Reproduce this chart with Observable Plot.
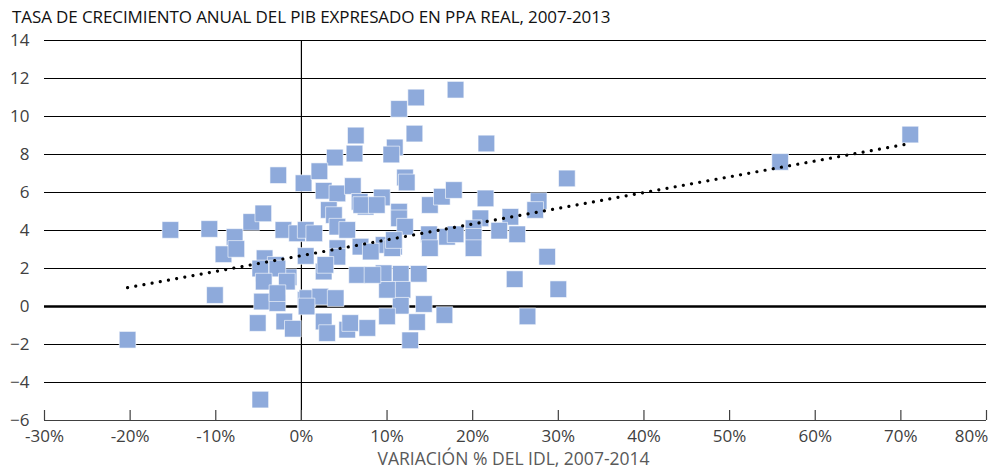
<!DOCTYPE html>
<html>
<head>
<meta charset="utf-8">
<script src="https://cdn.jsdelivr.net/npm/d3@7"></script>
<script src="https://cdn.jsdelivr.net/npm/@observablehq/plot@0.6"></script>
<style>
  html, body { margin: 0; padding: 0; background: #fff; }
  #wrap { width: 991px; height: 469px; overflow: hidden; font-family: "Open Sans", "Noto Sans", sans-serif; }
  #title { height: 31px; box-sizing: border-box; padding: 6px 0 0 12px; font-size: 17px; color: #111; white-space: nowrap; line-height: 22px; letter-spacing: -0.1px; }
  #caption { height: 21px; text-align: center; font-size: 17.5px; color: #595959; line-height: 20px; padding-left: 36px; white-space: nowrap; }
  #chart svg { overflow: visible; display: block; }
</style>
</head>
<body>
<div id="wrap">
  <div id="title">TASA DE CRECIMIENTO ANUAL DEL PIB EXPRESADO EN PPA REAL, 2007-2013</div>
  <div id="chart"></div>
  <div id="caption">VARIACIÓN % DEL IDL, 2007-2014</div>
</div>
<script>
// Variación % del IDL, 2007-2014 (x, percent)
const idlChange = [
  -20.3, -15.3, -10.75, -10.1, -9.1, -7.8, -7.6, -5.85, -4.45, -2.7,
  0.25, -2.1, -0.5, 0.5, 0.5, -4.3, -3.0, -4.4, -1.5, -4.8,
  -2.8, -4.4, -1.7, -4.6, -2.8, -2.8, -5.1, -2.0, -1.0, 0.5,
  -4.8, 13.4, 11.4, 18.0, 13.2, 6.35, 6.2, 10.9, 10.5, 3.9,
  21.6, 2.1, 12.1, 12.3, 2.6, 4.2, 6.0, 6.8, 7.5, 9.4,
  11.4, 15.0, 3.2, 3.8, 31.0, 16.4, 17.8, 21.5, 20.9, 27.7,
  27.3, 24.4, 11.4, 12.1, 23.1, 25.2, 14.9, 15.0, 17.0, 18.0,
  20.1, 20.1, 20.1, 10.8, 9.6, 28.7, 24.9, 30.0, 26.4, 16.7,
  14.3, 13.7, 11.6, 11.8, 11.6, 10.0, 9.6, 10.0, 13.5, 12.7,
  1.5, 4.2, 5.35, 4.2, 4.2, 2.6, 6.5, 8.3, 7.0, 8.8,
  6.9, 8.1, 10.6, 10.8, 0.7, 2.2, 4.0, 0.6, 2.6, 3.0,
  5.35, 5.7, 7.7, 55.9, 71.1, 2.8
];
// Tasa de crecimiento anual del PIB (PPA real), 2007-2013 (y, percent)
const gdpGrowth = [
  -1.75, 4.03, 4.08, 0.6, 2.75, 3.66, 3.03, 4.45, 4.9, 6.91,
  6.49, 4.03, 3.85, 4.03, 2.66, 2.54, 2.19, 1.75, 1.54, 2.0,
  2.0, 1.31, 1.31, 0.26, 0.18, 0.7, -0.87, -0.79, -1.17, 0.35,
  -4.9, 11.0, 10.4, 11.41, 9.1, 9.0, 8.05, 8.37, 8.0, 7.84,
  8.58, 7.12, 6.79, 6.53, 6.09, 5.95, 6.34, 5.51, 5.25, 5.74,
  4.99, 5.34, 5.08, 4.81, 6.74, 5.78, 6.13, 5.69, 4.64, 5.55,
  5.08, 4.72, 4.64, 4.2, 3.99, 3.8, 3.8, 3.07, 3.67, 3.8,
  4.12, 3.67, 3.07, 3.15, 3.24, 2.62, 1.44, 0.91, -0.52, -0.45,
  0.13, 1.72, 1.72, 0.88, 0.04, 0.88, 1.75, -0.52, -0.82, -1.78,
  3.85, 4.2, 4.03, 3.07, 2.62, 1.84, 1.66, 1.66, 5.34, 5.34,
  3.15, 2.89, 3.07, 3.5, 0.44, 0.52, 0.44, 0.0, -0.79, -1.4,
  -1.22, -0.87, -1.13, 7.61, 9.05, 2.19
];
const xTicks = [-30, -20, -10, 0, 10, 20, 30, 40, 50, 60, 70, 80];
const yTicks = [-6, -4, -2, 0, 2, 4, 6, 8, 10, 12, 14];

const points = idlChange.map((x, i) => ({x, y: gdpGrowth[i]}));

const W = 991, H = 417, mTop = 9, mBottom = 28, mLeft = 44, mRight = 5;
const innerH = H - mTop - mBottom;

const chart = Plot.plot({
  width: W,
  height: H,
  marginTop: mTop,
  marginBottom: mBottom,
  marginLeft: mLeft,
  marginRight: mRight,
  style: {fontFamily: "'Open Sans', 'Noto Sans', sans-serif", fontSize: "17px", color: "#404040", background: "white", overflow: "visible"},
  x: {domain: [-30, 80]},
  y: {domain: [-6, 14]},
  marks: [
    Plot.gridY(yTicks.filter(d => d > -6), {stroke: "#000", strokeOpacity: 1, strokeWidth: 1}),
    Plot.ruleY([0], {stroke: "#000", strokeWidth: 2.3}),
    Plot.ruleY([-6], {stroke: "#404040", strokeWidth: 1.2}),
    Plot.ruleX([0], {stroke: "#000", strokeWidth: 1.2}),
    Plot.tickX(xTicks, {x: d => d, stroke: "#404040", strokeWidth: 1.2, insetTop: innerH - 10}),
    Plot.axisY(yTicks, {tickSize: 0, tickPadding: 15, label: null, fill: "#404040"}),
    Plot.axisX(xTicks.filter(d => d < 80), {tickSize: 0, tickPadding: 9, label: null, tickFormat: d => d + "%", fill: "#404040"}),
    Plot.axisX(xTicks.filter(d => d === 80), {tickSize: 0, tickPadding: 9, label: null, tickFormat: d => d + "%", fill: "#404040", dx: -15}),
    Plot.dot(points, {x: "x", y: "y", symbol: "square", r: 9.4, fill: "#8eaadb", stroke: "white", strokeWidth: 0.6}),
    Plot.linearRegressionY(points, {x: "x", y: "y", ci: 0, stroke: "#000", strokeWidth: 3.2, strokeDasharray: "0.01,8.3", strokeLinecap: "round"})
  ]
});
document.getElementById("chart").append(chart);
</script>
</body>
</html>
